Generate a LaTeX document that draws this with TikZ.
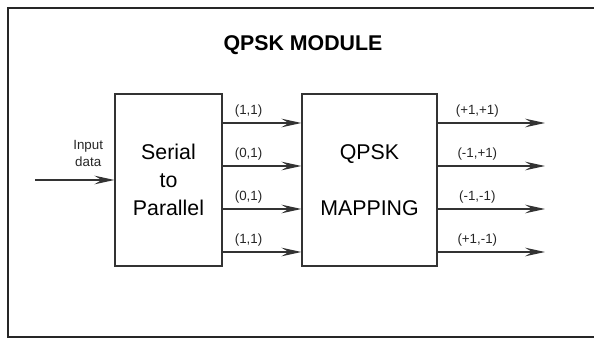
\documentclass[tikz,border=0pt]{standalone}
\usepackage{fontspec}
\setmainfont{Liberation Sans}
\usetikzlibrary{arrows.meta}

\begin{document}
\begin{tikzpicture}[x=0.75pt,y=-0.75pt,
    block/.style={draw=black!80, line width=0.9pt, align=center, inner sep=0pt,
                  font=\fontsize{16}{21}\selectfont},
    link/.style={draw=black!80, line width=0.9pt,
                 -{Stealth[length=15pt,width=6.5pt,inset=5.5pt]}},
    tag/.style={font=\fontsize{10}{12.75}\selectfont, align=center, text=black!85}]
        \useasboundingbox (0,0) rectangle (594,338);
        % outer frame, open on the right
        \draw[black!85, line width=1pt] (594,8) -- (8,8) -- (8,337) -- (594,337);
        \node[font=\fontsize{16}{19}\selectfont\bfseries] (title) at (303,45) {QPSK MODULE};

        \node[block, minimum width=80.25pt, minimum height=129pt] (sp) at (168.5,180)
            {Serial\\to\\Parallel};
        \node[block, minimum width=101.25pt, minimum height=129pt] (map) at (369.5,180)
            {QPSK\\[21pt]MAPPING};

        \coordinate (in) at (35,180);
        \draw[link] (in) -- (sp.west |- in) node[tag, pos=0.67, above=6.5pt] {Input\\data};

        \foreach \y/\bits/\sym [count=\i] in {123/{(1,1)}/{(+1,+1)}, 166/{(0,1)}/{(-1,+1)},
                                              209/{(0,1)}/{(-1,-1)}, 252/{(1,1)}/{(+1,-1)}} {
            \coordinate (row\i) at (0,\y);
            \coordinate (out\i) at (545,\y);
            \draw[link] (sp.east |- row\i) -- (map.west |- row\i)
                node[tag, pos=0.33, above=0.5pt] {\bits};
            \draw[link] (map.east |- row\i) -- (out\i)
                node[tag, pos=0.37, above=0.5pt] {\sym};
        }
\end{tikzpicture}
\end{document}
